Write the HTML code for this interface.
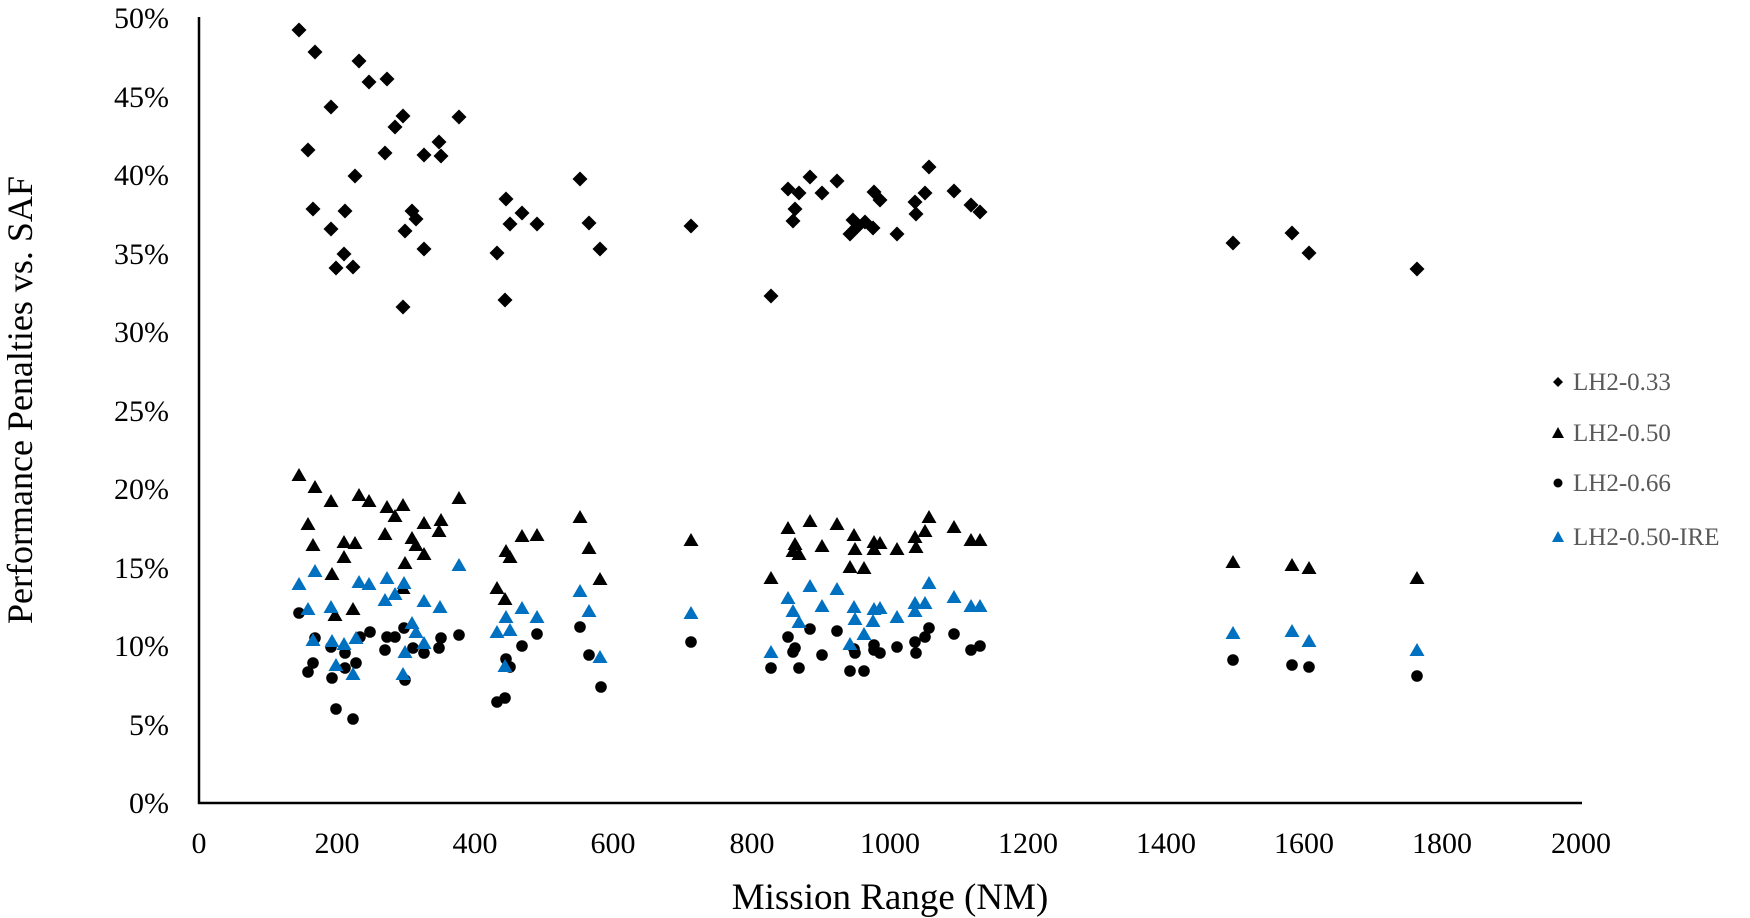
<!DOCTYPE html>
<html><head><meta charset="utf-8"><style>
html,body{margin:0;padding:0;background:#fff;}
svg{display:block;font-family:"Liberation Serif",serif;}
</style></head><body>
<svg id="c" width="1750" height="918" viewBox="0 0 1750 918" xmlns="http://www.w3.org/2000/svg">
<rect width="1750" height="918" fill="#fff"/>
<g font-size="30" fill="#000" text-anchor="end">
<text x="169" y="28">50%</text>
<text x="169" y="107">45%</text>
<text x="169" y="185">40%</text>
<text x="169" y="264">35%</text>
<text x="169" y="342">30%</text>
<text x="169" y="421">25%</text>
<text x="169" y="499">20%</text>
<text x="169" y="578">15%</text>
<text x="169" y="656">10%</text>
<text x="169" y="735">5%</text>
<text x="169" y="813">0%</text>
</g>
<g font-size="30" fill="#000" text-anchor="middle">
<text x="199" y="853">0</text>
<text x="337" y="853">200</text>
<text x="475" y="853">400</text>
<text x="613" y="853">600</text>
<text x="752" y="853">800</text>
<text x="890" y="853">1000</text>
<text x="1028" y="853">1200</text>
<text x="1166" y="853">1400</text>
<text x="1304" y="853">1600</text>
<text x="1442" y="853">1800</text>
<text x="1581" y="853">2000</text>
</g>
<text x="890" y="909" font-size="37" text-anchor="middle">Mission Range (NM)</text>
<text transform="translate(32,400) rotate(-90)" font-size="36" text-anchor="middle">Performance Penalties vs. SAF</text>
<line x1="199" y1="17" x2="199" y2="804" stroke="#000" stroke-width="2.5"/>
<line x1="198" y1="803" x2="1582" y2="803" stroke="#000" stroke-width="2.5"/>
<g id="pts"></g>
<g font-size="25" fill="#595959">
<text x="1573" y="390">LH2-0.33</text>
<text x="1573" y="441">LH2-0.50</text>
<text x="1573" y="491">LH2-0.66</text>
<text x="1573" y="545">LH2-0.50-IRE</text>
</g>
<polygon points="1558,377 1563,382 1558,387 1553,382" fill="#000"/>
<polygon points="1558,427 1564,438 1552,438" fill="#000"/>
<circle cx="1558" cy="483" r="4.5" fill="#000"/>
<polygon points="1558,531 1564,542 1552,542" fill="#0070C0"/>
</svg>
<script>
var D=[[299,30],[315,52],[359,61],[369,82],[387,79],[331,107],[403,116],[459,117],[395,127],[439,142],[308,150],[385,153],[424,155],[441,156],[355,176],[580,179],[313,209],[345,211],[506,199],[412,211],[416,219],[522,213],[331,229],[510,224],[537,224],[405,231],[589,223],[344,254],[424,249],[497,253],[600,249],[336,268],[353,267],[505,300],[403,307],
[691,226],[771,296],[788,189],[799,193],[810,177],[822,193],[837,181],[795,209],[793,221],[874,192],[880,200],[853,220],[857,227],[850,234],[865,222],[873,228],[897,234],[929,167],[925,193],[915,202],[916,214],[954,191],[971,205],[980,212],
[1233,243],[1292,233],[1309,253],[1417,269]];
var T=[[299,476],[315,488],[331,502],[359,496],[369,502],[387,508],[403,506],[395,517],[459,499],[308,525],[385,535],[424,524],[441,521],[439,532],[313,546],[344,543],[355,544],[412,539],[416,546],[424,555],[344,558],[405,564],[332,575],[403,589],[353,610],[335,616],[506,552],[510,558],[522,537],[537,536],[497,589],[505,600],[580,518],[589,549],[600,580],
[691,541],[771,579],[788,529],[810,522],[837,525],[795,545],[793,552],[799,555],[822,547],[854,536],[855,550],[850,568],[864,569],[874,543],[880,544],[874,550],[897,550],[929,518],[925,532],[915,538],[916,548],[954,528],[971,541],[980,541],
[1233,563],[1292,566],[1309,569],[1417,579]];
var B=[[299,585],[315,572],[308,610],[331,608],[359,583],[369,585],[387,579],[404,584],[395,595],[385,601],[424,602],[440,608],[459,566],[313,641],[332,642],[344,645],[356,639],[412,624],[416,633],[424,644],[405,653],[336,666],[353,675],[403,675],[506,618],[522,609],[537,618],[497,633],[510,631],[505,667],[580,592],[589,612],[600,658],
[691,614],[771,653],[788,599],[793,612],[799,623],[810,587],[822,607],[837,590],[854,608],[855,620],[850,645],[864,635],[874,610],[880,609],[873,622],[897,618],[929,584],[925,604],[915,604],[915,612],[954,598],[971,607],[980,607],
[1233,634],[1292,632],[1309,642],[1417,651]];
var C=[[299,613],[315,638],[360,637],[370,632],[387,637],[395,637],[404,628],[441,638],[459,635],[331,647],[345,653],[385,650],[413,648],[424,653],[439,648],[313,663],[308,672],[345,668],[356,663],[332,678],[405,680],[336,709],[353,719],[506,659],[510,667],[522,646],[537,634],[497,702],[505,698],[580,627],[589,655],[601,687],
[691,642],[771,668],[788,637],[795,648],[793,652],[799,668],[810,629],[822,655],[837,631],[854,649],[855,653],[850,671],[864,671],[874,645],[874,650],[880,653],[897,647],[929,628],[925,637],[915,642],[916,653],[954,634],[971,650],[980,646],
[1233,660],[1292,665],[1309,667],[1417,676]];
var s='';
C.forEach(function(p){s+='<circle cx="'+p[0]+'" cy="'+p[1]+'" r="5.8" fill="#000"/>';});
T.forEach(function(p){var x=p[0],y=p[1];s+='<polygon points="'+x+','+(y-8)+' '+(x+7.5)+','+(y+5)+' '+(x-7.5)+','+(y+5)+'" fill="#000"/>';});
B.forEach(function(p){var x=p[0],y=p[1];s+='<polygon points="'+x+','+(y-8)+' '+(x+7.5)+','+(y+5)+' '+(x-7.5)+','+(y+5)+'" fill="#0070C0"/>';});
D.forEach(function(p){var x=p[0],y=p[1];s+='<polygon points="'+x+','+(y-7.5)+' '+(x+7.5)+','+y+' '+x+','+(y+7.5)+' '+(x-7.5)+','+y+'" fill="#000"/>';});
document.getElementById('pts').innerHTML=s;
</script>
</body></html>
